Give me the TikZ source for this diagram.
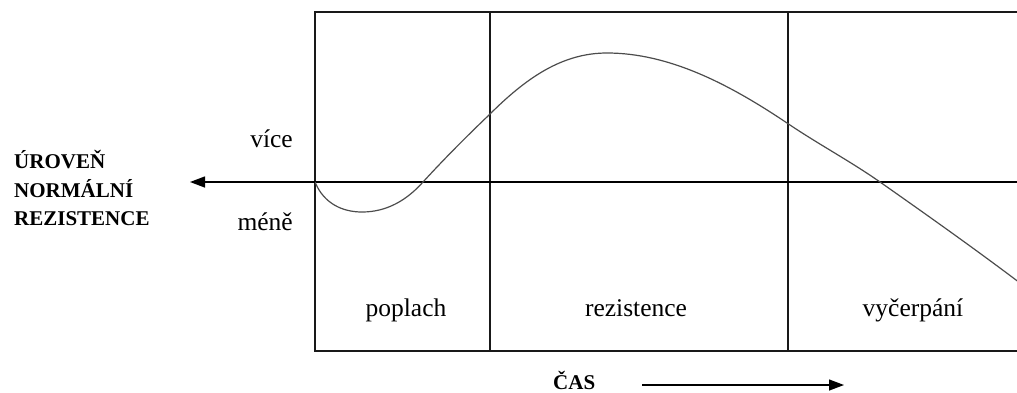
\documentclass[tikz,border=0pt]{standalone}
\usepackage{fontspec}
\setmainfont{Liberation Serif}
\usetikzlibrary{arrows.meta}
\tikzset{
  frame/.style={line width=1.4pt, draw=black!90},
  curveline/.style={line width=1.2pt, draw=black!70},
  txt/.style={inner sep=0pt, font=\fontsize{25.5}{30}\selectfont},
  boldtxt/.style={inner sep=0pt, font=\fontsize{21}{28}\selectfont\bfseries},
  axisarrow/.style={line width=1.4pt, -{Triangle[length=15pt,width=11pt]}}
}
\begin{document}
\begin{tikzpicture}[x=1pt,y=-1pt]
\useasboundingbox (0,0) rectangle (1017,392);
% frame
\coordinate (tl) at (315,12);
\coordinate (tr) at (1017,12);
\coordinate (bl) at (315,351);
\coordinate (br) at (1017,351);
\coordinate (v1t) at (490,12);
\coordinate (v1b) at (490,351);
\coordinate (v2t) at (788,12);
\coordinate (v2b) at (788,351);
\draw[frame] (tr) -- (tl) -- (bl) -- (br);
\draw[frame] (v1t) -- (v1b);
\draw[frame] (v2t) -- (v2b);
% horizontal axis with arrow
\coordinate (axr) at (1017,182);
\coordinate (axl) at (190,182);
\draw[axisarrow] (axr) -- (axl);
% curve
\begin{scope}
\clip (315,0) rectangle (1017,392);
\draw[curveline] (315,182)
  .. controls (324,204) and (343,212) .. (362,212)
  .. controls (387,212) and (407,200) .. (423,182)
  .. controls (446,157) and (467,136) .. (489,115)
  .. controls (526,78) and (562,53) .. (607,53)
  .. controls (669,53) and (729,84) .. (787,123)
  .. controls (818,144) and (850,161) .. (880,182)
  .. controls (927,215) and (975,249) .. (1020,283);
\end{scope}
% labels
\node[txt, anchor=base east] (vice) at (293,147) {více};
\node[txt, anchor=base east] (mene) at (293,230) {méně};
\node[txt, anchor=base] (poplach) at (406,316) {poplach};
\node[txt, anchor=base] (rezistence) at (636,316) {rezistence};
\node[txt, anchor=base] (vycerpani) at (913,316) {vyčerpání};
\node[boldtxt, anchor=base west] (l1) at (14,168) {ÚROVEŇ};
\node[boldtxt, anchor=base west] (l2) at (14,197) {NORMÁLNÍ};
\node[boldtxt, anchor=base west] (l3) at (14,225) {REZISTENCE};
\node[boldtxt, anchor=base west] (cas) at (553,389) {ČAS};
\coordinate (ta) at (642,385);
\coordinate (tb) at (844,385);
\draw[axisarrow, line width=1.3pt] (ta) -- (tb);
\end{tikzpicture}
\end{document}
